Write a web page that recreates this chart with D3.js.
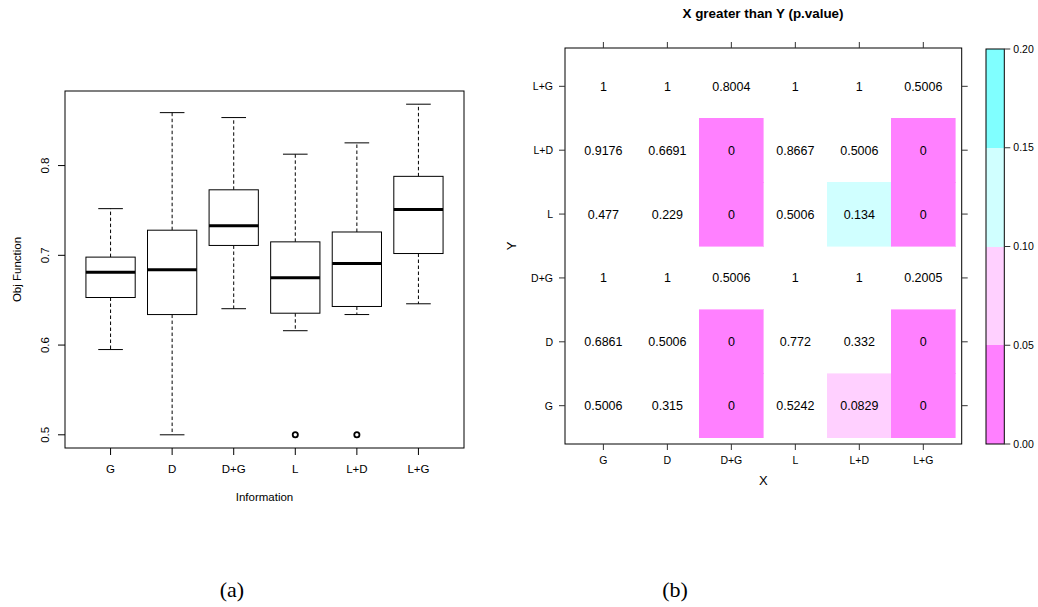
<!DOCTYPE html>
<html>
<head>
<meta charset="utf-8">
<script src="https://cdn.jsdelivr.net/npm/d3@7"></script>
<style>
  body { margin: 0; background: #fff; }
  svg { display: block; font-family: "Liberation Sans", Arial, sans-serif; }
</style>
</head>
<body>
<svg id="fig" width="1038" height="607"></svg>
<script>
// categories, shared by both panels
const groups = ['G', 'D', 'D+G', 'L', 'L+D', 'L+G'];

// (a) box plot stats per group
const whiskerLow = [0.595, 0.500, 0.6405, 0.616, 0.634, 0.646];
const q1 = [0.653, 0.634, 0.711, 0.6355, 0.643, 0.702];
const median = [0.681, 0.684, 0.733, 0.675, 0.691, 0.751];
const q3 = [0.698, 0.728, 0.773, 0.715, 0.726, 0.788];
const whiskerHigh = [0.752, 0.859, 0.8535, 0.8127, 0.8253, 0.8684];
const outliers = [{ g: 'L', v: 0.5 }, { g: 'L+D', v: 0.5 }];
const yTicksA = [0.5, 0.6, 0.7, 0.8];

// (b) p-values, one array per Y row, columns in X order of groups
const rowG = [0.5006, 0.315, 0, 0.5242, 0.0829, 0];
const rowD = [0.6861, 0.5006, 0, 0.772, 0.332, 0];
const rowDG = [1, 1, 0.5006, 1, 1, 0.2005];
const rowL = [0.477, 0.229, 0, 0.5006, 0.134, 0];
const rowLD = [0.9176, 0.6691, 0, 0.8667, 0.5006, 0];
const rowLG = [1, 1, 0.8004, 1, 1, 0.5006];
const pRows = [rowG, rowD, rowDG, rowL, rowLD, rowLG];
const breaks = [0, 0.05, 0.1, 0.15, 0.2];
const binColors = ['#ff80ff', '#ffd0ff', '#d0ffff', '#80ffff'];
const legendTicks = ['0.00', '0.05', '0.10', '0.15', '0.20'];

const svg = d3.select('#fig');

// ---------- (a) box plot ----------
const a = { left: 65, right: 464, top: 91, bottom: 448 };
const xa = d3.scaleLinear().domain([0.26, 6.74]).range([a.left, a.right]);
const ya = d3.scaleLinear().domain([0.4853, 0.8831]).range([a.bottom, a.top]);
const boxW = 0.8, capW = 0.4;

const boxes = groups.map((g, i) => ({
  g, i: i + 1, lo: whiskerLow[i], q1: q1[i], med: median[i], q3: q3[i], hi: whiskerHigh[i]
}));

const bg = svg.append('g');
const box = bg.selectAll('g.box').data(boxes).enter().append('g').attr('class', 'box');

// whiskers
box.append('line')
  .attr('x1', d => xa(d.i)).attr('x2', d => xa(d.i))
  .attr('y1', d => ya(d.q3)).attr('y2', d => ya(d.hi))
  .attr('stroke', '#000').attr('stroke-dasharray', '3.5,2.5');
box.append('line')
  .attr('x1', d => xa(d.i)).attr('x2', d => xa(d.i))
  .attr('y1', d => ya(d.q1)).attr('y2', d => ya(d.lo))
  .attr('stroke', '#000').attr('stroke-dasharray', '3.5,2.5');
// caps
['hi', 'lo'].forEach(k => {
  box.append('line')
    .attr('x1', d => xa(d.i - capW / 2)).attr('x2', d => xa(d.i + capW / 2))
    .attr('y1', d => ya(d[k])).attr('y2', d => ya(d[k]))
    .attr('stroke', '#000');
});
box.append('rect')
  .attr('x', d => xa(d.i - boxW / 2))
  .attr('width', d => xa(d.i + boxW / 2) - xa(d.i - boxW / 2))
  .attr('y', d => ya(d.q3))
  .attr('height', d => ya(d.q1) - ya(d.q3))
  .attr('fill', '#fff').attr('stroke', '#000');
box.append('line')
  .attr('x1', d => xa(d.i - boxW / 2)).attr('x2', d => xa(d.i + boxW / 2))
  .attr('y1', d => ya(d.med)).attr('y2', d => ya(d.med))
  .attr('stroke', '#000').attr('stroke-width', 3);

bg.selectAll('circle.out').data(outliers).enter().append('circle')
  .attr('cx', d => xa(groups.indexOf(d.g) + 1))
  .attr('cy', d => ya(d.v))
  .attr('r', 2.6).attr('fill', 'none').attr('stroke', '#000').attr('stroke-width', 1.8);

bg.append('rect')
  .attr('x', a.left).attr('y', a.top)
  .attr('width', a.right - a.left).attr('height', a.bottom - a.top)
  .attr('fill', 'none').attr('stroke', '#000');

// axes
bg.selectAll('line.xt').data(groups).enter().append('line')
  .attr('x1', (d, i) => xa(i + 1)).attr('x2', (d, i) => xa(i + 1))
  .attr('y1', a.bottom).attr('y2', a.bottom + 7).attr('stroke', '#000');
bg.selectAll('text.xl').data(groups).enter().append('text')
  .attr('x', (d, i) => xa(i + 1)).attr('y', a.bottom + 25)
  .attr('text-anchor', 'middle').attr('font-size', 11.5).text(d => d);
bg.selectAll('line.yt').data(yTicksA).enter().append('line')
  .attr('x1', a.left - 7).attr('x2', a.left)
  .attr('y1', d => ya(d)).attr('y2', d => ya(d)).attr('stroke', '#000');
bg.selectAll('text.yl').data(yTicksA).enter().append('text')
  .attr('transform', d => `translate(49,${ya(d)}) rotate(-90)`)
  .attr('text-anchor', 'middle').attr('font-size', 11.5).text(d => d.toFixed(1));
bg.append('text')
  .attr('x', (a.left + a.right) / 2).attr('y', 501)
  .attr('text-anchor', 'middle').attr('font-size', 11.5).text('Information');
bg.append('text')
  .attr('transform', `translate(21,${(a.top + a.bottom) / 2}) rotate(-90)`)
  .attr('text-anchor', 'middle').attr('font-size', 11.5).text('Obj Function');

// ---------- (b) level plot ----------
const b = { left: 565, right: 961.7, top: 48, bottom: 444 };
const xb = d3.scaleLinear().domain([0.4, 6.6]).range([b.left, b.right]);
const yb = d3.scaleLinear().domain([0.4, 6.6]).range([b.bottom, b.top]);
const color = d3.scaleThreshold().domain(breaks.slice(1)).range(binColors.concat([null]));

const cells = [];
pRows.forEach((row, r) => row.forEach((v, c) => cells.push({ r: r + 1, c: c + 1, v })));

const hg = svg.append('g');
hg.selectAll('rect.cell').data(cells.filter(d => d.v <= 0.2)).enter().append('rect')
  .attr('x', d => xb(d.c - 0.5)).attr('width', d => xb(d.c + 0.5) - xb(d.c - 0.5))
  .attr('y', d => yb(d.r + 0.5)).attr('height', d => yb(d.r - 0.5) - yb(d.r + 0.5))
  .attr('fill', d => color(d.v))
  .attr('stroke', d => color(d.v)).attr('stroke-width', 0.6)
  .attr('shape-rendering', 'crispEdges');
hg.selectAll('text.val').data(cells).enter().append('text')
  .attr('x', d => xb(d.c)).attr('y', d => yb(d.r) + 4.5)
  .attr('text-anchor', 'middle').attr('font-size', 12.5).text(d => String(d.v));

hg.append('rect')
  .attr('x', b.left).attr('y', b.top)
  .attr('width', b.right - b.left).attr('height', b.bottom - b.top)
  .attr('fill', 'none').attr('stroke', '#000');

const idx = d3.range(1, groups.length + 1);
hg.selectAll('line.tt').data(idx).enter().append('line')
  .attr('x1', d => xb(d)).attr('x2', d => xb(d))
  .attr('y1', b.top - 6).attr('y2', b.top).attr('stroke', '#333');
hg.selectAll('line.bt').data(idx).enter().append('line')
  .attr('x1', d => xb(d)).attr('x2', d => xb(d))
  .attr('y1', b.bottom).attr('y2', b.bottom + 6).attr('stroke', '#333');
hg.selectAll('line.lt').data(idx).enter().append('line')
  .attr('x1', b.left - 6).attr('x2', b.left)
  .attr('y1', d => yb(d)).attr('y2', d => yb(d)).attr('stroke', '#333');
hg.selectAll('line.rt').data(idx).enter().append('line')
  .attr('x1', b.right).attr('x2', b.right + 6)
  .attr('y1', d => yb(d)).attr('y2', d => yb(d)).attr('stroke', '#333');
hg.selectAll('text.bl').data(groups).enter().append('text')
  .attr('x', (d, i) => xb(i + 1)).attr('y', b.bottom + 20)
  .attr('text-anchor', 'middle').attr('font-size', 10.5).text(d => d);
hg.selectAll('text.ll').data(groups).enter().append('text')
  .attr('x', b.left - 12).attr('y', (d, i) => yb(i + 1) + 4)
  .attr('text-anchor', 'end').attr('font-size', 10.5).text(d => d);

hg.append('text')
  .attr('x', (b.left + b.right) / 2).attr('y', 485)
  .attr('text-anchor', 'middle').attr('font-size', 13).text('X');
hg.append('text')
  .attr('transform', `translate(516,${(b.top + b.bottom) / 2}) rotate(-90)`)
  .attr('text-anchor', 'middle').attr('font-size', 13).text('Y');
hg.append('text')
  .attr('x', 763).attr('y', 18)
  .attr('text-anchor', 'middle').attr('font-size', 13.4).attr('font-weight', 'bold')
  .text('X greater than Y (p.value)');

// colour key
const k = { left: 986, right: 1004.3 };
const yk = d3.scaleLinear().domain([0, 0.2]).range([444, 49]);
hg.selectAll('rect.key').data(binColors).enter().append('rect')
  .attr('x', k.left).attr('width', k.right - k.left)
  .attr('y', (d, i) => yk(breaks[i + 1]))
  .attr('height', (d, i) => yk(breaks[i]) - yk(breaks[i + 1]))
  .attr('fill', d => d).attr('shape-rendering', 'crispEdges');
hg.append('rect')
  .attr('x', k.left).attr('y', yk(0.2))
  .attr('width', k.right - k.left).attr('height', yk(0) - yk(0.2))
  .attr('fill', 'none').attr('stroke', '#000');
hg.selectAll('line.kt').data(breaks).enter().append('line')
  .attr('x1', k.right).attr('x2', k.right + 6)
  .attr('y1', d => yk(d)).attr('y2', d => yk(d)).attr('stroke', '#333');
hg.selectAll('text.kl').data(legendTicks).enter().append('text')
  .attr('x', k.right + 9).attr('y', (d, i) => yk(breaks[i]) + 3.5)
  .attr('font-size', 10.5).text(d => d);

// captions
svg.append('text').attr('x', 232).attr('y', 597).attr('text-anchor', 'middle')
  .attr('font-family', '"Liberation Serif", "DejaVu Serif", serif').attr('font-size', 22).text('(a)');
svg.append('text').attr('x', 675).attr('y', 597).attr('text-anchor', 'middle')
  .attr('font-family', '"Liberation Serif", "DejaVu Serif", serif').attr('font-size', 22).text('(b)');
</script>
</body>
</html>
